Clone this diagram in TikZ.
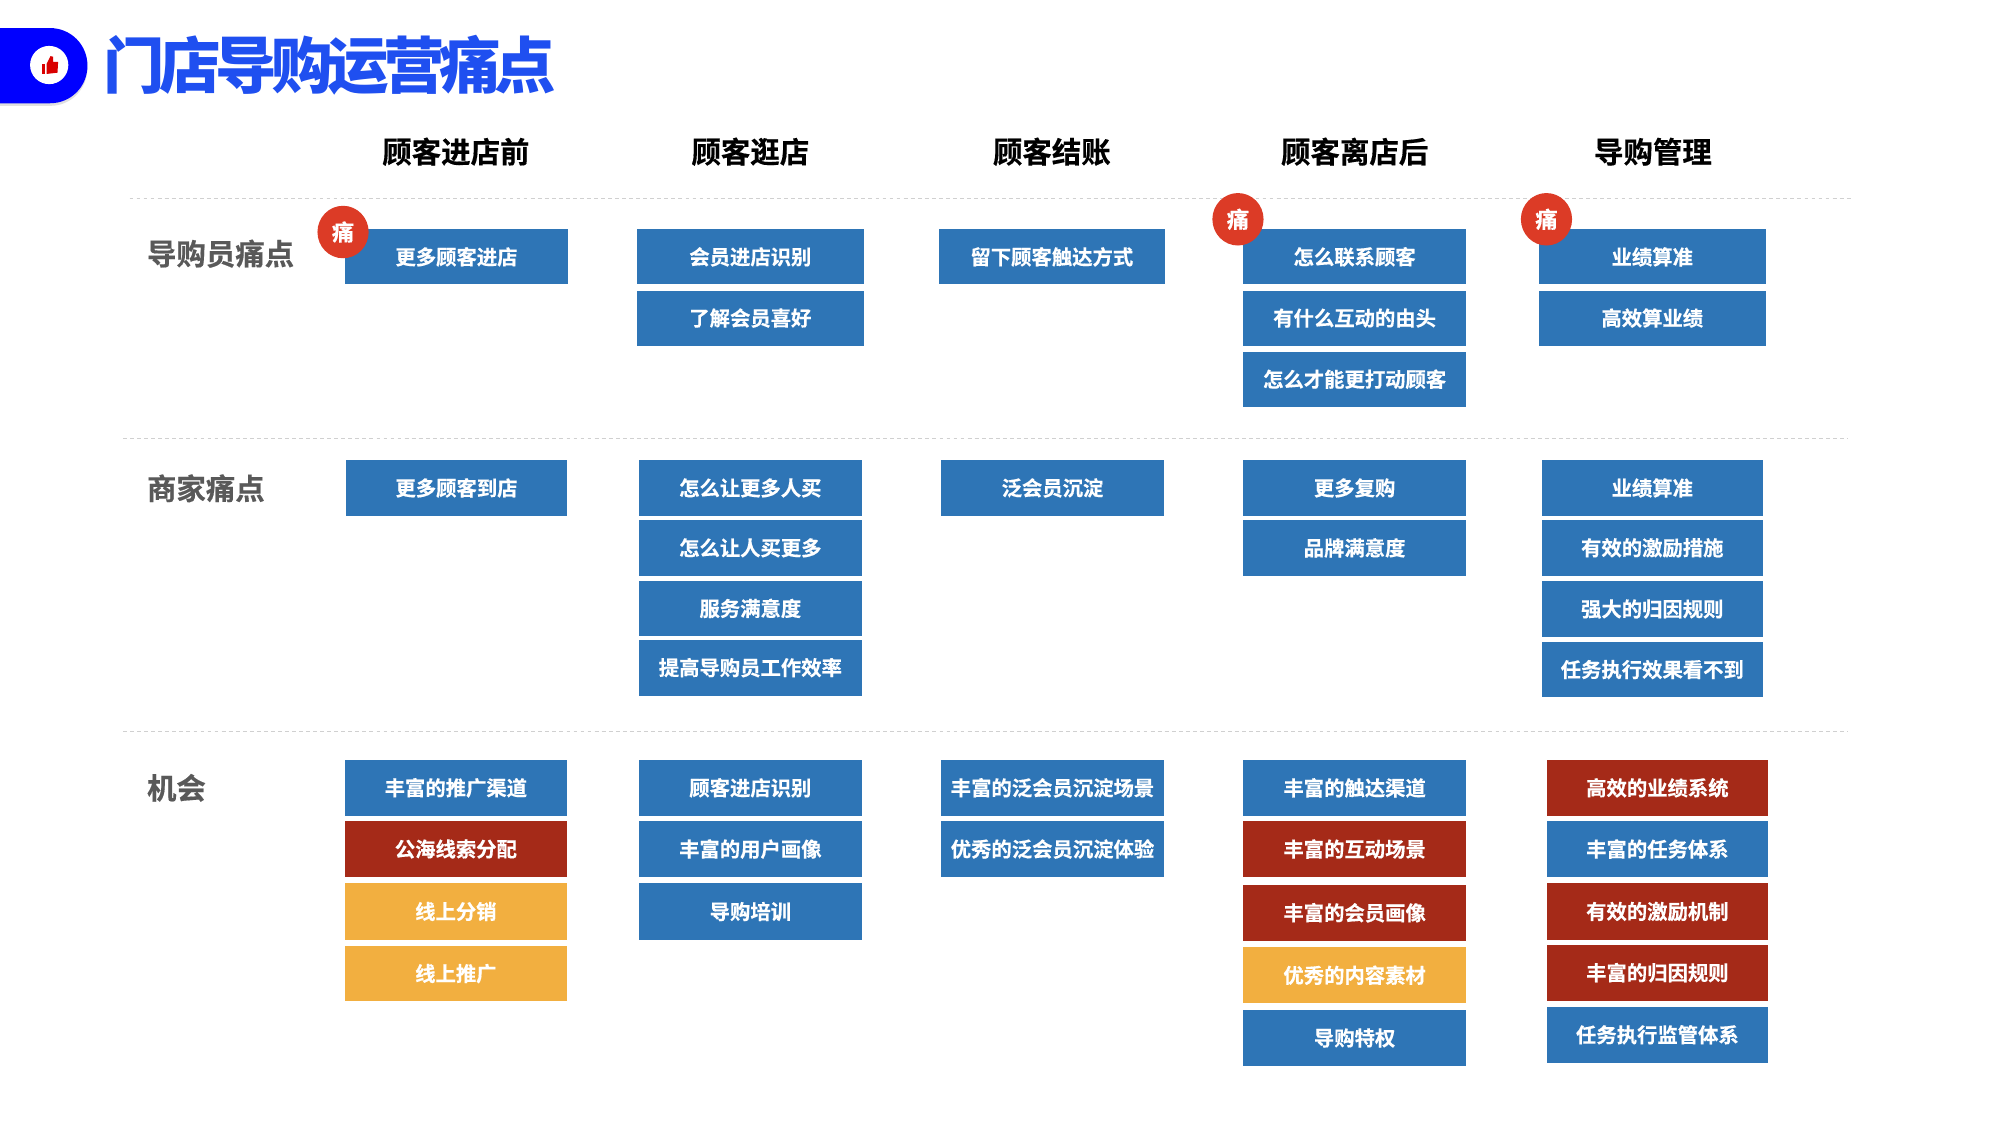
\documentclass[tikz,border=0pt]{standalone}
\usepackage{fontspec}
\setmainfont{Noto Sans CJK SC}
\newfontfamily\cjkb{Noto Sans CJK SC Bold}[FakeBold=0.4]
\newfontfamily\cjkt{Noto Sans CJK SC Black}[LetterSpace=-9]
\definecolor{bxblue}{HTML}{2E75B6}
\definecolor{bxred}{HTML}{A52A18}
\definecolor{bxorg}{HTML}{F2AF40}
\definecolor{badge}{HTML}{DC3B26}
\definecolor{ttl}{HTML}{1F4FF0}
\definecolor{side}{HTML}{595959}
\definecolor{rule}{HTML}{D0D0D0}
\usetikzlibrary{shapes.geometric}
\tikzset{
 bxs/.style={rectangle,inner sep=0pt,text=white,font=\cjkb\fontsize{15.9}{16}\selectfont},
 hdr/.style={text=black,font=\cjkb\fontsize{23}{23}\selectfont,inner sep=0pt},
 sidel/.style={text=side,font=\cjkb\fontsize{23}{23}\selectfont,inner sep=0pt,anchor=west},
 badgen/.style={ellipse,fill=badge,inner sep=0pt,minimum width=40pt,minimum height=41pt,text=white,font=\cjkb\fontsize{17.5}{18}\selectfont},
 rulel/.style={rule,line width=1pt,dash pattern=on 3pt off 2.5pt},
}
\newcommand{\bx}[7]{\node[bxs,fill=#6,minimum width=#3pt-#2pt,minimum height=#5pt-#4pt] (#1) at ({(#2+#3)/2},{(#4+#5)/2}) {#7};}
\begin{document}
\begin{tikzpicture}[x=0.99626pt,y=-0.99626pt]
\useasboundingbox (-0.6,0) rectangle (1568.26,882.5);
\fill[white] (-0.6,0) rectangle (1568.26,882.5);
% title tab
\fill[black!12] (-0.6,24) -- (39,24) .. controls (55,24) and (68,37) .. (68,53) .. controls (68,70) and (55,83) .. (39,83) -- (-0.6,83) -- cycle;
\fill[blue] (-0.6,22) -- (38.5,22) .. controls (55,22) and (68,35) .. (68,51.5) .. controls (68,68) and (55,81) .. (38.5,81) -- (-0.6,81) -- cycle;
\fill[white] (38,51) circle[radius=15];
\fill[red!85!black] (32.5,50) rectangle (35,58);
\fill[red!85!black] (36,50) -- (39,44) -- (41,44.5) -- (41,48.5) -- (45,48.5) -- (44.5,57) -- (36,58) -- cycle;
\node[anchor=west,text=ttl,inner sep=0pt,font=\cjkt\fontsize{48}{48}\selectfont] (title) at (80.5,51) {门店导购运营痛点};
% headers
\node[hdr] (h1) at (357,119) {顾客进店前};
\node[hdr] (h2) at (588,119) {顾客逛店};
\node[hdr] (h3) at (824.5,119) {顾客结账};
\node[hdr] (h4) at (1062,119) {顾客离店后};
\node[hdr] (h5) at (1296,119) {导购管理};
% rules
\coordinate (r1a) at (101,155.5); \coordinate (r1b) at (1453,155.5);
\coordinate (r2a) at (96,344); \coordinate (r2b) at (1449,344);
\coordinate (r3a) at (96,574); \coordinate (r3b) at (1449,574);
\draw[rulel] (r1a) -- (r1b);
\draw[rulel] (r2a) -- (r2b);
\draw[rulel] (r3a) -- (r3b);
% side labels
\node[sidel] (s1) at (114.5,199) {导购员痛点};
\node[sidel] (s2) at (114.5,383) {商家痛点};
\node[sidel] (s3) at (114.5,618) {机会};
% row 1
\bx{a11}{270}{445}{180}{223}{bxblue}{更多顾客进店}
\bx{a21}{499.5}{676.5}{180}{223}{bxblue}{会员进店识别}
\bx{a22}{499.5}{676.5}{228}{271}{bxblue}{了解会员喜好}
\bx{a31}{736}{913}{180}{223}{bxblue}{留下顾客触达方式}
\bx{a41}{975}{1149}{180}{223}{bxblue}{怎么联系顾客}
\bx{a42}{975}{1149}{228}{271}{bxblue}{有什么互动的由头}
\bx{a43}{975}{1149}{276}{319}{bxblue}{怎么才能更打动顾客}
\bx{a51}{1207}{1384}{180}{223}{bxblue}{业绩算准}
\bx{a52}{1207}{1384}{228}{271}{bxblue}{高效算业绩}
% row 2
\bx{b11}{271}{444}{361}{404.5}{bxblue}{更多顾客到店}
\bx{b21}{501}{675}{361}{404.5}{bxblue}{怎么让更多人买}
\bx{b22}{501}{675}{408}{451.5}{bxblue}{怎么让人买更多}
\bx{b23}{501}{675}{455.5}{499}{bxblue}{服务满意度}
\bx{b24}{501}{675}{502}{545.5}{bxblue}{提高导购员工作效率}
\bx{b31}{738}{912}{361}{404.5}{bxblue}{泛会员沉淀}
\bx{b41}{975}{1149}{361}{404.5}{bxblue}{更多复购}
\bx{b42}{975}{1149}{408}{451.5}{bxblue}{品牌满意度}
\bx{b51}{1209}{1382}{361}{404.5}{bxblue}{业绩算准}
\bx{b52}{1209}{1382}{408}{451.5}{bxblue}{有效的激励措施}
\bx{b53}{1209}{1382}{456}{499.5}{bxblue}{强大的归因规则}
\bx{b54}{1209}{1382}{503.5}{547}{bxblue}{任务执行效果看不到}
% row 3
\bx{c11}{270}{444}{596}{640}{bxblue}{丰富的推广渠道}
\bx{c12}{270}{444}{644}{688}{bxred}{公海线索分配}
\bx{c13}{270}{444}{693}{737}{bxorg}{线上分销}
\bx{c14}{270}{444}{742}{785.5}{bxorg}{线上推广}
\bx{c21}{501}{675}{596}{640}{bxblue}{顾客进店识别}
\bx{c22}{501}{675}{644}{688}{bxblue}{丰富的用户画像}
\bx{c23}{501}{675}{693}{737}{bxblue}{导购培训}
\bx{c31}{738}{912}{596}{640}{bxblue}{丰富的泛会员沉淀场景}
\bx{c32}{738}{912}{644}{688}{bxblue}{优秀的泛会员沉淀体验}
\bx{c41}{975}{1149}{596}{640}{bxblue}{丰富的触达渠道}
\bx{c42}{975}{1149}{644}{688}{bxred}{丰富的互动场景}
\bx{c43}{975}{1149}{694}{738}{bxred}{丰富的会员画像}
\bx{c44}{975}{1149}{743}{787}{bxorg}{优秀的内容素材}
\bx{c45}{975}{1149}{792.5}{836}{bxblue}{导购特权}
\bx{c51}{1213}{1386}{596}{640}{bxred}{高效的业绩系统}
\bx{c52}{1213}{1386}{644}{688}{bxblue}{丰富的任务体系}
\bx{c53}{1213}{1386}{693}{737}{bxred}{有效的激励机制}
\bx{c54}{1213}{1386}{741}{785}{bxred}{丰富的归因规则}
\bx{c55}{1213}{1386}{790}{833.5}{bxblue}{任务执行监管体系}
% badges
\node[badgen] (p1) at (268.5,182) {痛};
\node[badgen] (p2) at (970.5,172) {痛};
\node[badgen] (p3) at (1212.5,172) {痛};
\end{tikzpicture}
\end{document}
